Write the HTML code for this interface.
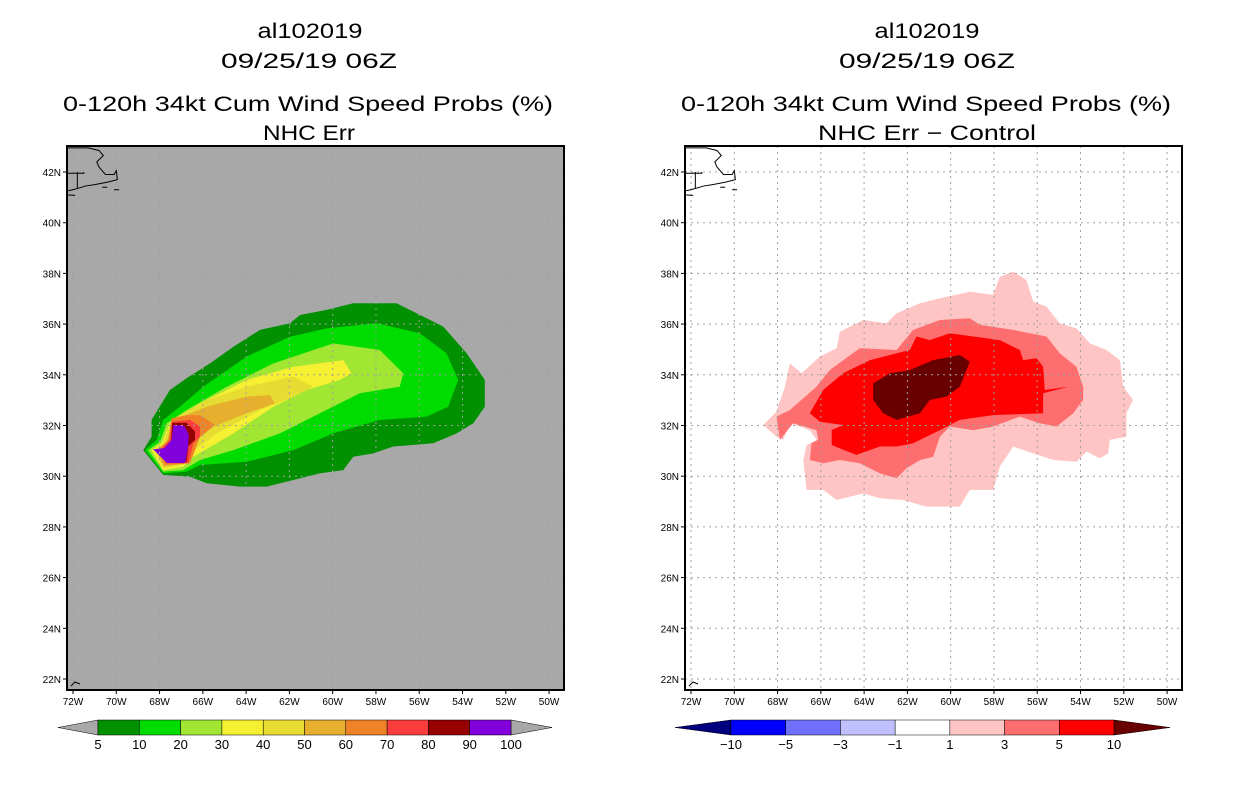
<!DOCTYPE html>
<html><head><meta charset="utf-8"><style>
html,body{margin:0;padding:0;background:#fff;}
svg{display:block;font-family:"Liberation Sans",sans-serif;}
</style></head><body>
<svg id="chart" width="1236" height="800" viewBox="0 0 1236 800" xmlns="http://www.w3.org/2000/svg">
<rect width="1236" height="800" fill="#fff"/>
<g font-size="21" text-anchor="middle" fill="#000" lengthAdjust="spacingAndGlyphs">
<text x="310" y="38" textLength="105" lengthAdjust="spacingAndGlyphs">al102019</text>
<text x="309" y="68" textLength="176" lengthAdjust="spacingAndGlyphs">09/25/19 06Z</text>
<text x="308" y="111" textLength="490" lengthAdjust="spacingAndGlyphs">0-120h 34kt Cum Wind Speed Probs (%)</text>
<text x="309" y="140" textLength="92" lengthAdjust="spacingAndGlyphs">NHC Err</text>
</g>
<g font-size="21" text-anchor="middle" fill="#000">
<text x="927" y="38" textLength="105" lengthAdjust="spacingAndGlyphs">al102019</text>
<text x="927" y="68" textLength="176" lengthAdjust="spacingAndGlyphs">09/25/19 06Z</text>
<text x="926" y="111" textLength="490" lengthAdjust="spacingAndGlyphs">0-120h 34kt Cum Wind Speed Probs (%)</text>
<text x="927" y="140" textLength="218" lengthAdjust="spacingAndGlyphs">NHC Err − Control</text>
</g>
<g id="left"></g>
<g id="right"></g>
</svg>
<script>
const lonTicks=[-72,-70,-68,-66,-64,-62,-60,-58,-56,-54,-52,-50];
const latTicks=[42,40,38,36,34,32,30,28,26,24,22];
// left panel contour levels (lon,lat pairs)
const leftLevels=[5,10,20,30,40,50,60,70,80,90];
const leftColors=["#009000","#00dc00","#a0e632","#f5f032","#e6dc32","#e6af2d","#f08228","#fa3c3c","#960000","#8200dc"];
const leftP5=[[-68.75,31.03],[-68.37,31.56],[-68.37,32.22],[-67.52,33.40],[-66.75,33.86],[-65.67,34.45],[-64.59,35.11],[-63.36,35.77],[-61.97,36.03],[-61.51,36.36],[-60.28,36.56],[-59.05,36.82],[-57.05,36.82],[-54.89,35.90],[-53.81,34.85],[-52.97,33.80],[-52.97,32.74],[-53.5,32.09],[-54.27,31.69],[-55.35,31.30],[-57.2,31.17],[-58.12,30.90],[-59.05,30.77],[-59.51,30.24],[-60.59,30.11],[-61.82,29.85],[-63.05,29.59],[-64.28,29.59],[-65.82,29.72],[-66.59,29.98],[-67.83,30.05]];
const leftP10=[[-68.67,31.03],[-68.13,31.43],[-67.83,32.22],[-67.06,32.74],[-65.98,33.53],[-63.98,34.72],[-61.97,35.50],[-60.28,35.83],[-57.97,36.03],[-55.97,35.64],[-54.74,34.85],[-54.20,33.80],[-54.66,32.74],[-55.66,32.35],[-57.82,32.22],[-59.97,31.69],[-61.82,31.03],[-63.98,30.57],[-66.13,30.44],[-66.75,30.18],[-67.83,30.11]];
const leftP20=[[-68.52,31.03],[-67.98,31.36],[-67.67,32.09],[-66.75,32.61],[-64.9,33.53],[-62.74,34.45],[-59.97,35.24],[-57.82,34.98],[-56.74,34.06],[-56.9,33.53],[-58.74,33.27],[-60.59,32.48],[-62.44,31.69],[-64.59,31.03],[-66.13,30.64],[-66.9,30.24],[-67.83,30.18]];
const leftP30=[[-68.37,31.03],[-67.9,31.30],[-67.52,32.09],[-66.13,32.87],[-63.98,33.8],[-61.82,34.32],[-59.51,34.58],[-59.13,34.06],[-59.66,33.8],[-61.2,33.40],[-62.74,32.74],[-64.59,31.69],[-66.44,30.77],[-66.9,30.38],[-67.83,30.24]];
const leftP40=[[-68.21,31.03],[-67.83,31.30],[-67.44,32.22],[-65.82,33.0],[-63.98,33.53],[-61.82,33.93],[-60.9,33.53],[-61.82,33.14],[-63.36,32.61],[-65.36,31.69],[-66.59,30.90],[-66.9,30.44],[-67.83,30.31]];
const leftP50=[[-68.13,31.03],[-67.67,31.36],[-67.36,32.22],[-65.82,32.74],[-63.98,33.14],[-62.9,33.2],[-62.67,32.87],[-63.98,32.48],[-65.52,31.95],[-66.29,31.43],[-66.75,30.51],[-67.83,30.38]];
const leftP60=[[-68.06,31.03],[-67.6,31.43],[-67.44,32.28],[-66.75,32.41],[-66.13,32.41],[-65.44,32.02],[-66.13,31.56],[-66.59,30.51],[-67.75,30.44]];
const leftP70=[[-67.98,31.03],[-67.52,31.43],[-67.44,32.15],[-66.59,32.22],[-66.13,31.95],[-66.13,31.56],[-66.44,31.30],[-66.67,30.51],[-67.7,30.51]];
const leftP80=[[-67.9,31.03],[-67.47,31.36],[-67.41,32.11],[-66.75,32.11],[-66.36,31.76],[-66.36,31.43],[-66.67,31.19],[-66.75,30.57],[-67.67,30.57]];
const leftP90=[[-68.3,31.06],[-67.8,31.1],[-67.44,31.43],[-67.36,32.02],[-66.86,32.0],[-66.65,31.63],[-66.68,31.17],[-66.82,30.52],[-67.66,30.52]];
const leftPolys=[leftP5,leftP10,leftP20,leftP30,leftP40,leftP50,leftP60,leftP70,leftP80,leftP90];
// right panel difference contours
const rightLevels=[1,3,5,10];
const rightColors=["#ffc4c4","#ff6e6e","#ff0000","#690000"];
const rightP1=[[-68.66,32.02],[-68.05,32.55],[-67.66,33.53],[-67.43,34.45],[-66.89,34.06],[-66.04,34.72],[-65.27,35.05],[-65.12,35.70],[-64.04,36.16],[-62.96,36.03],[-62.5,36.43],[-61.42,36.82],[-60.5,37.02],[-59.11,37.28],[-58.04,37.15],[-57.73,37.87],[-57.11,38.07],[-56.5,37.74],[-56.19,36.89],[-55.57,36.69],[-54.96,36.03],[-54.19,35.83],[-53.57,35.24],[-52.8,34.98],[-52.18,34.58],[-52.03,33.53],[-51.57,33.01],[-51.88,32.48],[-51.88,31.56],[-52.65,31.43],[-52.72,30.90],[-53.11,30.71],[-53.72,30.97],[-54.19,30.57],[-55.26,30.64],[-56.19,30.90],[-57.11,31.17],[-57.73,30.38],[-58.04,29.46],[-59.11,29.46],[-59.58,28.8],[-61.12,28.8],[-62.2,29.06],[-63.27,29.13],[-64.04,29.32],[-65.27,29.06],[-65.89,29.46],[-66.66,29.46],[-66.81,30.64],[-66.66,31.23],[-66.2,31.43],[-66.51,31.82],[-67.43,32.09],[-67.74,31.43],[-68.05,31.56]];
const rightP3=[[-68.05,32.35],[-67.43,32.61],[-66.2,33.53],[-65.58,34.19],[-64.2,35.05],[-62.5,34.98],[-61.73,35.77],[-60.5,36.16],[-59.11,36.23],[-58.65,35.97],[-57.11,35.77],[-55.57,35.51],[-54.96,34.85],[-54.19,34.32],[-53.88,33.53],[-53.88,33.01],[-54.34,32.48],[-55.11,31.96],[-55.88,32.09],[-56.8,32.35],[-58.04,31.96],[-58.96,31.82],[-60.04,31.96],[-60.5,31.56],[-60.81,30.77],[-61.42,30.64],[-62.04,30.31],[-62.5,29.92],[-63.27,30.11],[-64.2,30.51],[-65.12,30.64],[-65.89,30.51],[-66.51,30.64],[-66.43,31.30],[-66.12,31.43],[-66.2,31.82],[-67.28,32.09],[-67.89,31.43]];
const rightP5=[[-66.51,32.48],[-65.89,33.40],[-64.97,34.06],[-63.73,34.58],[-62.5,34.85],[-61.89,34.98],[-61.58,35.51],[-60.96,35.37],[-60.04,35.64],[-58.96,35.51],[-57.73,35.37],[-56.8,34.98],[-56.65,34.58],[-56.03,34.65],[-55.73,34.32],[-55.65,33.4],[-54.57,33.53],[-55.73,33.27],[-55.73,32.48],[-58.04,32.41],[-59.58,32.22],[-60.5,31.82],[-61.73,31.30],[-62.5,31.17],[-63.27,31.17],[-64.35,30.84],[-64.97,31.04],[-65.5,31.23],[-65.5,31.82],[-64.97,32.02],[-66.04,32.15]];
const rightP10=[[-63.58,33.66],[-62.81,34.06],[-61.89,34.19],[-60.81,34.58],[-59.58,34.78],[-59.11,34.52],[-59.58,33.53],[-60.19,33.14],[-60.96,33.01],[-61.42,32.48],[-62.5,32.22],[-63.12,32.48],[-63.58,33.01]];
const rightPolys=[rightP1,rightP3,rightP5,rightP10];
// colorbars
const leftBarLabels=["5","10","20","30","40","50","60","70","80","90","100"];
const rightBarLabels=["−10","−5","−3","−1","1","3","5","10"];
const rightBarColors=["#0000ff","#7070ff","#c0c0ff","#ffffff","#ffc4c4","#ff6e6e","#ff0000"];
// coastline (lon,lat)
const coast1=[[-72.3,42.95],[-71.3,42.95],[-70.8,42.85],[-70.6,42.65],[-70.9,42.4],[-70.8,42.2],[-70.5,41.9],[-70.1,41.9],[-70.0,42.05],[-69.95,41.7],[-70.4,41.6],[-71.0,41.5],[-71.4,41.45],[-72.0,41.3],[-72.3,41.25]];
const coast2=[[-72.3,41.95],[-71.5,41.95],[-71.5,42.0]];
const coast3=[[-71.8,42.0],[-71.8,41.35]];
const coast4=[[-72.3,41.1],[-71.9,41.08]];
const islands=[[-70.1,41.3],[-70.65,41.4]];

const NS="http://www.w3.org/2000/svg";
function mk(tag,attrs,parent){const e=document.createElementNS(NS,tag);for(const k in attrs)e.setAttribute(k,attrs[k]);parent.appendChild(e);return e;}
function drawPanel(g,ox,polys,colors,bg,names){
  const X0=ox,Y0=146,W=497,H=544;
  const xs=lon=>ox+6+(lon+72)*21.64;
  const ys=lat=>172+(42-lat)*25.35;
  const clip=mk('clipPath',{id:'clip'+ox},g);
  mk('rect',{x:X0,y:Y0,width:W,height:H},clip);
  const bgr=mk('rect',{x:X0,y:Y0,width:W,height:H,fill:bg},g);
  
  
  const cg=mk('g',{'clip-path':'url(#clip'+ox+')'},g);
  polys.forEach((p,i)=>{
    const el=mk('polygon',{points:p.map(q=>xs(q[0]).toFixed(1)+','+ys(q[1]).toFixed(1)).join(' '),fill:colors[i]},cg);
    
    
  });
  const grid=mk('g',{stroke:'#a0a0a0','stroke-width':1,'stroke-dasharray':'2,4'},cg);
  
  
  lonTicks.forEach(l=>mk('line',{x1:xs(l),x2:xs(l),y1:Y0,y2:Y0+H},grid));
  latTicks.forEach(l=>mk('line',{x1:X0,x2:X0+W,y1:ys(l),y2:ys(l)},grid));
  const cst=mk('g',{fill:'none',stroke:'#000','stroke-width':1},cg);
  
  
  [coast1,coast2,coast3,coast4].forEach(c=>mk('polyline',{points:c.map(q=>xs(q[0])+','+ys(q[1])).join(' ')},cst));
  islands.forEach(q=>mk('line',{x1:xs(q[0]),x2:xs(q[0])+5,y1:ys(q[1]),y2:ys(q[1])},cst));
  mk('polyline',{points:`${X0+4},${686} ${X0+8},${682} ${X0+13},${684}`},cst);
  const fr=mk('rect',{x:X0,y:Y0,width:W,height:H,fill:'none',stroke:'#000','stroke-width':2},g);
  
  
  const ax=mk('g',{'font-size':10,fill:'#000'},g);
  
  
  latTicks.forEach(l=>{
    mk('line',{x1:X0-4,x2:X0,y1:ys(l),y2:ys(l),stroke:'#000'},ax);
    const t=mk('text',{x:X0-6,y:ys(l)+4,'text-anchor':'end'},ax);t.textContent=l+'N';
  });
  lonTicks.forEach(l=>{
    mk('line',{x1:xs(l),x2:xs(l),y1:Y0+H,y2:Y0+H+4,stroke:'#000'},ax);
    const t=mk('text',{x:xs(l),y:Y0+H+15,'text-anchor':'middle'},ax);t.textContent=(-l)+'W';
  });
}
drawPanel(document.getElementById('left'),67,leftPolys,leftColors,'#a8a8a8',leftLevels.map(v=>v+'pct'));
drawPanel(document.getElementById('right'),685,rightPolys,rightColors,'#ffffff',rightLevels.map(v=>v+'pct'));

// left colorbar
(function(){
  const g=document.getElementById('left');
  const cb=mk('g',{},g);
  
  
  const x0=98,x1=511,y=720,h=15,n=leftColors.length,w=(x1-x0)/n;
  mk('polygon',{points:`58,${y+h/2} ${x0},${y} ${x0},${y+h}`,fill:'#a8a8a8',stroke:'#000','stroke-width':0.5},cb);
  mk('polygon',{points:`552,${y+h/2} ${x1},${y} ${x1},${y+h}`,fill:'#a8a8a8',stroke:'#000','stroke-width':0.5},cb);
  leftColors.forEach((c,i)=>mk('rect',{x:x0+i*w,y:y,width:w,height:h,fill:c,stroke:'#000','stroke-width':0.5},cb));
  leftBarLabels.forEach((s,i)=>{const t=mk('text',{x:x0+i*w,y:y+h+14,'text-anchor':'middle','font-size':13},cb);t.textContent=s;});
})();
// right colorbar
(function(){
  const g=document.getElementById('right');
  const cb=mk('g',{},g);
  
  
  const x0=731,x1=1114,y=720,h=15,n=rightBarColors.length,w=(x1-x0)/n;
  mk('polygon',{points:`675,${y+h/2} ${x0},${y} ${x0},${y+h}`,fill:'#00007f',stroke:'#000','stroke-width':0.5},cb);
  mk('polygon',{points:`1170,${y+h/2} ${x1},${y} ${x1},${y+h}`,fill:'#690000',stroke:'#000','stroke-width':0.5},cb);
  rightBarColors.forEach((c,i)=>mk('rect',{x:x0+i*w,y:y,width:w,height:h,fill:c,stroke:'#000','stroke-width':0.5},cb));
  rightBarLabels.forEach((s,i)=>{const t=mk('text',{x:x0+i*w,y:y+h+14,'text-anchor':'middle','font-size':13},cb);t.textContent=s;});
})();
</script>
</body></html>
